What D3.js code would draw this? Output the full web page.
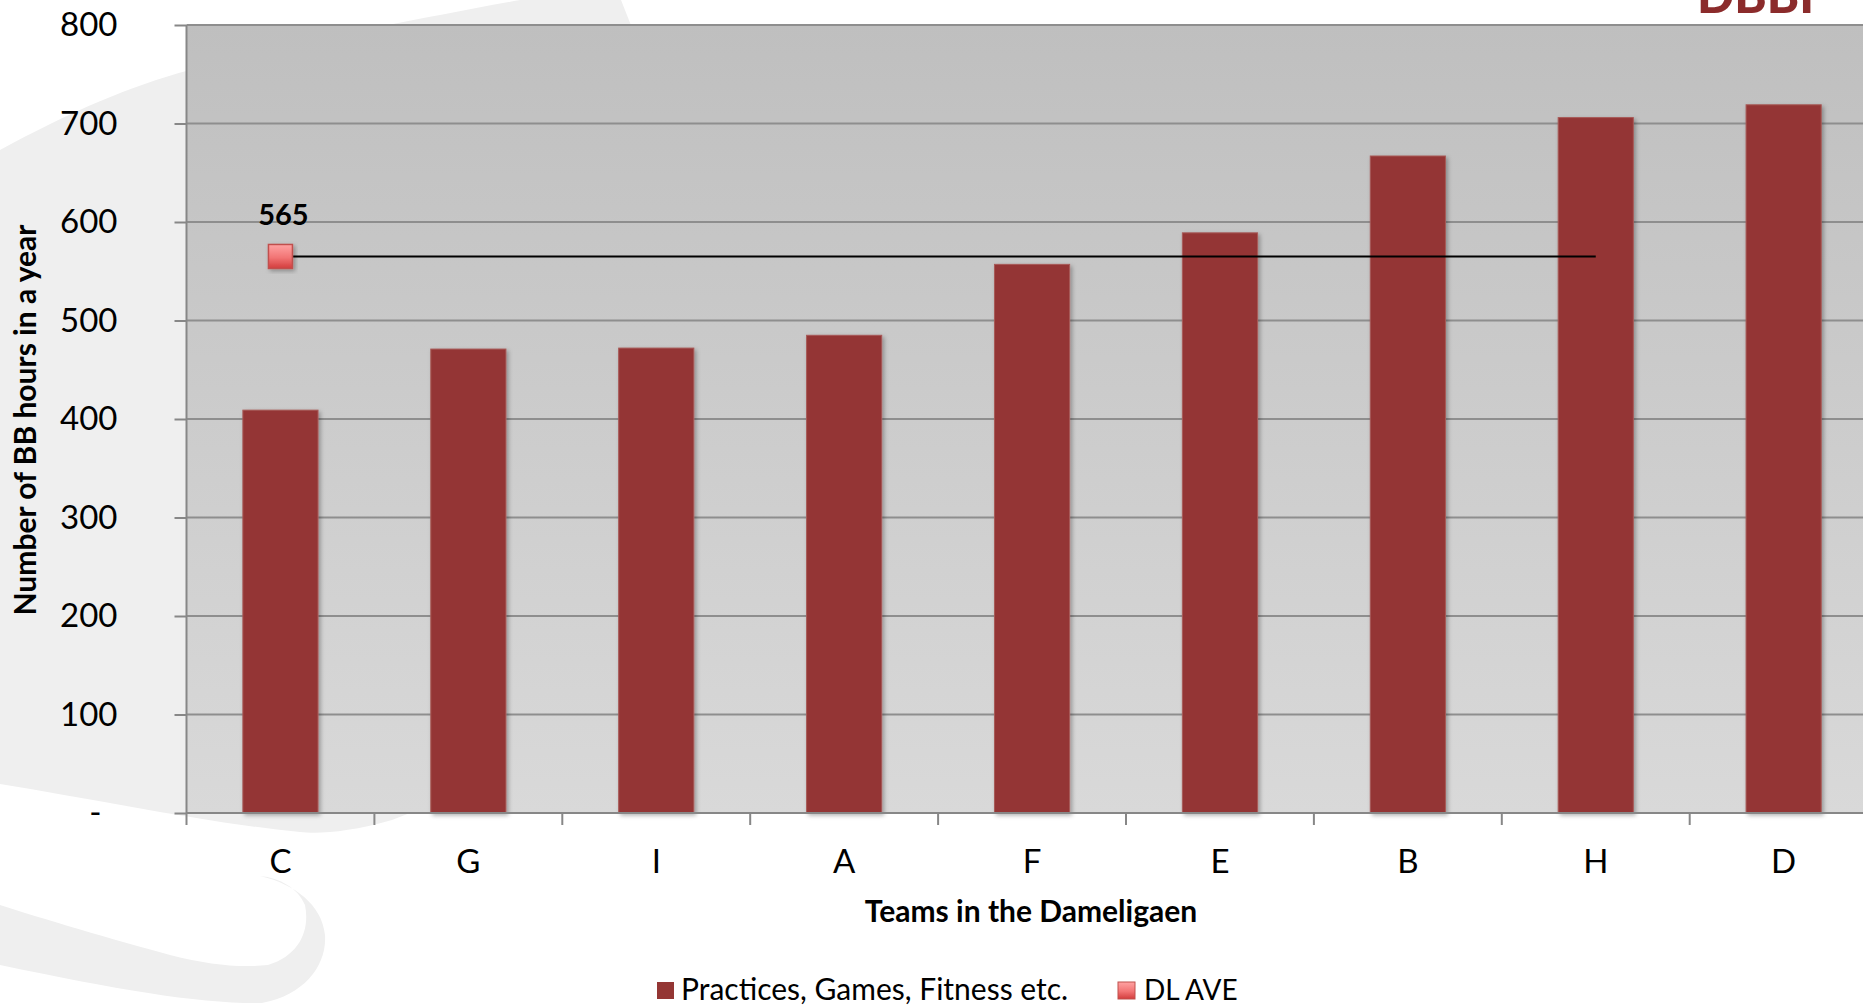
<!DOCTYPE html>
<html>
<head>
<meta charset="utf-8">
<script src="https://cdn.jsdelivr.net/npm/d3@7"></script>
<style>
  html, body { margin: 0; padding: 0; background: #ffffff; overflow: hidden; }
  svg { display: block; }
  text { font-family: Lato, "Open Sans", "DejaVu Sans", sans-serif; }
</style>
</head>
<body>
<svg id="chart" width="1863" height="1006"></svg>
<script>
// ---------- data ----------
const categories = ["C", "G", "I", "A", "F", "E", "B", "H", "D"];
const hours = [409, 471, 472, 485, 557, 589, 667, 706, 719];
const avgValues = [565, 565, 565, 565, 565, 565, 565, 565, null];
const yTicks = [0, 100, 200, 300, 400, 500, 600, 700, 800];
const seriesNames = ["Practices, Games, Fitness etc.", "DL AVE"];
const avgLabel = "565";
const xTitle = "Teams in the Dameligaen";
const yTitle = "Number of BB hours in a year";
const logoText = "DBBF";

// ---------- layout ----------
const W = 1863, H = 1006;
const plotLeft = 186.5, step = 187.9;
const plotRight = plotLeft + step * categories.length;
const plotTop = 25, plotBottom = 813;

const svg = d3.select("#chart");
const defs = svg.append("defs");

const bg = defs.append("linearGradient").attr("id", "plotBg")
  .attr("x1", 0).attr("y1", 0).attr("x2", 0).attr("y2", 1);
bg.append("stop").attr("offset", "0%").attr("stop-color", "#bfbfbf");
bg.append("stop").attr("offset", "100%").attr("stop-color", "#d9d9d9");

const mk = defs.append("linearGradient").attr("id", "markerGrad")
  .attr("x1", 0).attr("y1", 0).attr("x2", 0).attr("y2", 1);
mk.append("stop").attr("offset", "0%").attr("stop-color", "#ffa3a3");
mk.append("stop").attr("offset", "55%").attr("stop-color", "#f27474");
mk.append("stop").attr("offset", "100%").attr("stop-color", "#d23c3c");

const sh = defs.append("filter").attr("id", "shadow")
  .attr("x", "-20%").attr("y", "-20%").attr("width", "140%").attr("height", "140%");
sh.append("feDropShadow").attr("dx", 2).attr("dy", 2).attr("stdDeviation", 2)
  .attr("flood-color", "#000").attr("flood-opacity", 0.3);

// ---------- decorative background swirl ----------
const deco = svg.append("g").attr("fill", "#efefef");
deco.append("path").attr("d",
  "M0,150 C70,112 130,86 190,70 C280,46 400,22 520,0 L621,0 L700,200 L700,700 " +
  "L392,820 C350,832 320,834 300,832 C200,822 100,800 0,784 Z");
deco.append("path").attr("d",
  "M0,905 C40,918 115,940 170,955 C210,965 240,968 268,965 C300,955 310,930 305,905 " +
  "C298,888 280,878 260,876 C295,884 322,905 325,935 C327,965 305,995 262,1003 " +
  "C200,1004 120,990 0,965 Z");

// ---------- scales ----------
const x = d3.scaleBand().domain(categories)
  .range([plotLeft, plotRight]).paddingInner(0.6).paddingOuter(0.3);
const y = d3.scaleLinear().domain([0, 800]).range([plotBottom, plotTop]);

// plot area
svg.append("rect").attr("x", plotLeft).attr("y", plotTop)
  .attr("width", W - plotLeft + 20).attr("height", plotBottom - plotTop)
  .attr("fill", "url(#plotBg)");

// gridlines
svg.append("g").selectAll("line").data(yTicks.filter(d => d > 0)).join("line")
  .attr("x1", plotLeft).attr("x2", W + 20)
  .attr("y1", d => y(d)).attr("y2", d => y(d))
  .attr("stroke", "#8e8e8e").attr("stroke-width", 2);

// y axis
const yAxis = svg.append("g").attr("transform", `translate(${plotLeft},0)`)
  .call(d3.axisLeft(y).tickValues(yTicks).tickSize(12).tickPadding(57)
    .tickFormat(d => d === 0 ? "-" : d));
yAxis.select(".domain").attr("stroke", "#878787").attr("stroke-width", 2)
  .attr("d", `M0,${plotTop}V${plotBottom}`);
yAxis.selectAll(".tick line").attr("stroke", "#878787").attr("stroke-width", 2);
yAxis.selectAll(".tick text").attr("font-size", 33).attr("fill", "#000")
  .attr("font-family", "Lato, sans-serif")
  .attr("dx", d => d === 0 ? -16 : 0);

// bars
svg.append("g").selectAll("rect").data(categories).join("rect")
  .attr("x", d => x(d)).attr("width", x.bandwidth())
  .attr("y", (d, i) => y(hours[i]))
  .attr("height", (d, i) => y(0) - y(hours[i]))
  .attr("fill", "#943634").attr("stroke", "#a85a58").attr("stroke-width", 1)
  .attr("filter", "url(#shadow)");

// x axis
const xg = svg.append("g");
xg.append("line").attr("x1", plotLeft).attr("x2", W + 20)
  .attr("y1", plotBottom).attr("y2", plotBottom)
  .attr("stroke", "#878787").attr("stroke-width", 2);
const boundaries = categories.map(c => x(c) + x.bandwidth() / 2 - x.step() / 2)
  .concat([x(categories[categories.length - 1]) + x.bandwidth() / 2 + x.step() / 2]);
xg.selectAll("line.tick").data(boundaries).join("line").attr("class", "tick")
  .attr("x1", d => d).attr("x2", d => d)
  .attr("y1", plotBottom).attr("y2", plotBottom + 12)
  .attr("stroke", "#878787").attr("stroke-width", 2);
xg.selectAll("text").data(categories).join("text")
  .attr("x", d => x(d) + x.bandwidth() / 2).attr("y", 873)
  .attr("text-anchor", "middle").attr("font-size", 33).attr("fill", "#000")
  .text(d => d);

// average line
const cx = d => x(d) + x.bandwidth() / 2;
const avgPts = categories.map((c, i) => ({ c, v: avgValues[i] }));
svg.append("path").datum(avgPts)
  .attr("d", d3.line().defined(d => d.v != null).x(d => cx(d.c)).y(d => y(d.v)))
  .attr("fill", "none").attr("stroke", "#000").attr("stroke-width", 2);
const first = avgPts[0];
svg.append("rect").attr("x", cx(first.c) - 12).attr("y", y(first.v) - 12)
  .attr("width", 24).attr("height", 24)
  .attr("fill", "url(#markerGrad)").attr("stroke", "#c0504d").attr("stroke-width", 1.5)
  .attr("filter", "url(#shadow)");
svg.append("text").attr("x", cx(first.c) + 3).attr("y", y(first.v) - 31)
  .attr("text-anchor", "middle").attr("font-size", 29).attr("font-weight", "bold")
  .attr("fill", "#000").text(avgLabel);

// axis titles
svg.append("text").attr("x", 1031).attr("y", 922)
  .attr("text-anchor", "middle").attr("font-size", 30).attr("font-weight", "bold")
  .attr("fill", "#000").text(xTitle);
svg.append("text").attr("transform", "translate(36,420) rotate(-90)")
  .attr("text-anchor", "middle").attr("font-size", 30).attr("font-weight", "bold")
  .attr("fill", "#000").text(yTitle);

// legend
const lg = svg.append("g");
lg.append("rect").attr("x", 657).attr("y", 982).attr("width", 17).attr("height", 17)
  .attr("fill", "#943634");
lg.append("text").attr("x", 681).attr("y", 1000).attr("font-size", 30)
  .attr("fill", "#000").text(seriesNames[0]);
lg.append("rect").attr("x", 1118).attr("y", 982).attr("width", 17).attr("height", 17)
  .attr("fill", "url(#markerGrad)").attr("stroke", "#c0504d").attr("stroke-width", 1);
lg.append("text").attr("x", 1144).attr("y", 1000).attr("font-size", 28)
  .attr("fill", "#000").text(seriesNames[1]);

// logo (cut off at top, as in the reference)
svg.append("text").attr("x", 1697).attr("y", 13).attr("font-size", 49)
  .attr("font-weight", 900).attr("fill", "#8b2b2b").text(logoText);
</script>
</body>
</html>
